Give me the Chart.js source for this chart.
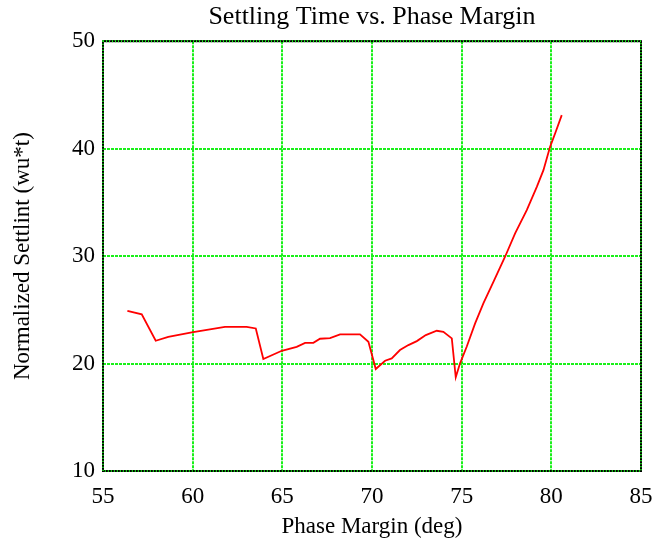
<!DOCTYPE html>
<html>
<head>
<meta charset="utf-8">
<script src="https://cdn.jsdelivr.net/npm/chart.js@4.4.0/dist/chart.umd.min.js"></script>
<style>
  html, body { margin: 0; padding: 0; background: #fff; }
  #wrap { width: 656px; height: 543px; }
</style>
</head>
<body>
<div id="wrap"><canvas id="chart" width="656" height="543"></canvas></div>
<script>
// values
const phaseMargin = [
  56.36, 57.16, 57.94, 58.64, 59.95, 61.80, 63.01, 63.52, 63.94, 64.97,
  65.80, 66.27, 66.73, 67.10, 67.66, 68.22, 69.33, 69.80, 70.21, 70.73,
  71.10, 71.56, 72.03, 72.50, 73.00, 73.61, 73.98, 74.45, 74.67, 74.91,
  75.28, 75.75, 76.21, 76.77, 77.42, 77.98, 78.63, 79.19, 79.56, 79.93,
  80.21, 80.58
];
const settlingTime = [
  24.91, 24.58, 22.12, 22.49, 22.90, 23.42, 23.42, 23.27, 20.42, 21.19,
  21.56, 21.93, 21.93, 22.31, 22.37, 22.72, 22.72, 22.03, 19.49, 20.26,
  20.48, 21.26, 21.72, 22.09, 22.65, 23.05, 22.96, 22.34, 18.72, 20.02,
  21.56, 23.74, 25.60, 27.61, 29.94, 32.11, 34.28, 36.45, 38.00, 40.17,
  41.41, 43.12
];
const xTicks = [55, 60, 65, 70, 75, 80, 85];
const yTicks = [10, 20, 30, 40, 50];

const points = phaseMargin.map((x, i) => ({ x: x, y: settlingTime[i] }));

const FONT = 'Liberation Serif, Times New Roman, serif';
const GRID = '#1af01a';

// black and green dotted frame round the plot
const framePlugin = {
  id: 'frame',
  afterDraw(chart) {
    const a = chart.chartArea;
    const ctx = chart.ctx;
    ctx.save();
    ctx.lineWidth = 2;
    ctx.strokeStyle = '#000';
    ctx.strokeRect(a.left, a.top, a.right - a.left, a.bottom - a.top);
    ctx.strokeStyle = GRID;
    ctx.setLineDash([1, 2]);
    ctx.strokeRect(a.left, a.top, a.right - a.left, a.bottom - a.top);
    ctx.restore();
  }
};

new Chart(document.getElementById('chart'), {
  type: 'scatter',
  data: {
    datasets: [{
      data: points,
      showLine: true,
      borderColor: '#ff0000',
      borderWidth: 1.8,
      pointRadius: 0,
      tension: 0
    }]
  },
  options: {
    responsive: false,
    animation: false,
    layout: { padding: { left: 0, right: 15, top: 0, bottom: 0 } },
    plugins: {
      legend: { display: false },
      tooltip: { enabled: false },
      title: {
        display: true,
        text: 'Settling Time vs. Phase Margin',
        color: '#000',
        fullSize: false,
        font: { family: FONT, size: 26, weight: 'normal' },
        padding: { top: 2, bottom: 8 }
      }
    },
    scales: {
      x: {
        type: 'linear',
        min: 55, max: 85,
        afterBuildTicks(scale) { scale.ticks = xTicks.map(v => ({ value: v })); },
        afterFit(scale) {
          scale.height = 72;
          // the end labels may hang over the edge, as in the original
          scale.paddingLeft = 0;
          scale.paddingRight = 0;
        },
        ticks: { color: '#000', font: { family: FONT, size: 23 }, padding: 12, maxRotation: 0 },
        grid: { color: GRID, lineWidth: 2, drawTicks: false },
        border: { display: false, dash: [3, 1] },
        title: {
          display: true,
          text: 'Phase Margin (deg)',
          color: '#000',
          font: { family: FONT, size: 23 },
          padding: { top: 4, bottom: 2 }
        }
      },
      y: {
        type: 'linear',
        min: 10, max: 50,
        afterBuildTicks(scale) { scale.ticks = yTicks.map(v => ({ value: v })); },
        afterFit(scale) { scale.width = 103; },
        ticks: { color: '#000', font: { family: FONT, size: 23 }, padding: 8 },
        grid: { color: GRID, lineWidth: 2, drawTicks: false },
        border: { display: false, dash: [3, 1] },
        title: {
          display: true,
          text: 'Normalized Settlint (wu*t)',
          color: '#000',
          font: { family: FONT, size: 23 },
          padding: { top: 9, bottom: 4 }
        }
      }
    }
  },
  plugins: [framePlugin]
});
</script>
</body>
</html>
